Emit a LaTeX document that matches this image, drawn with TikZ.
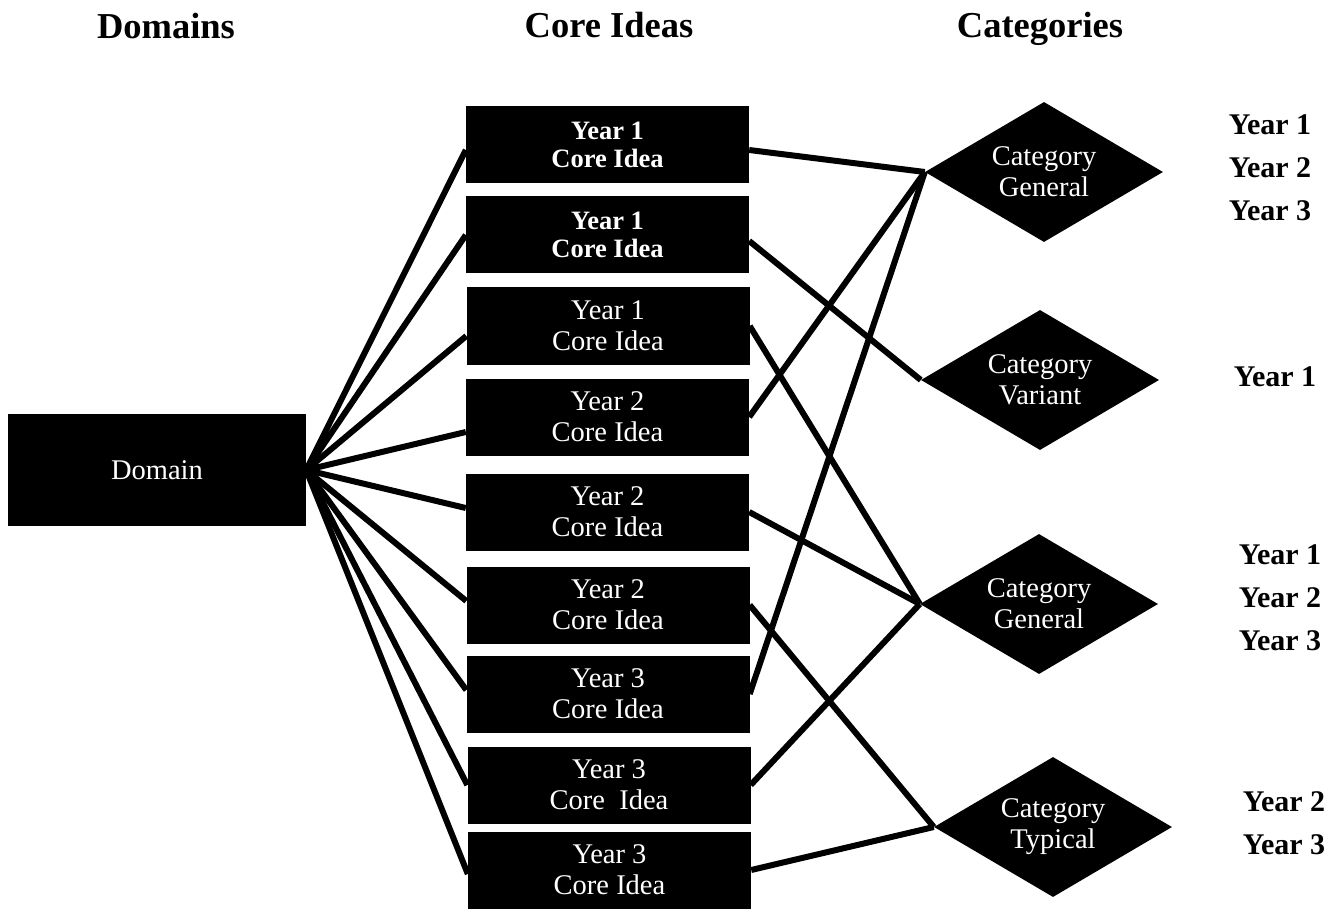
\documentclass[tikz,border=0pt]{standalone}
\usepackage{fontspec}
\setmainfont{Liberation Serif}
\usetikzlibrary{shapes.geometric}
\tikzset{
  corebox/.style={fill=black,text=white,minimum width=283pt,minimum height=77pt,inner sep=0pt,align=center,font=\fontsize{28.5}{31}\selectfont},
  corebold/.style={corebox,font=\fontsize{26.5}{28}\selectfont\bfseries},
  catdiamond/.style={diamond,fill=black,text=white,aspect=1.7,minimum width=238pt,minimum height=140pt,inner sep=0pt,align=center,font=\fontsize{28.5}{31}\selectfont},
  heading/.style={anchor=base,font=\fontsize{36.5}{40}\selectfont\bfseries},
  yearlist/.style={align=center,font=\fontsize{30}{43}\selectfont\bfseries},
  link/.style={line width=6pt}
}
\begin{document}
\begin{tikzpicture}[x=1pt,y=-1pt]
\useasboundingbox (0,0) rectangle (1336,909);
% headings
\node[heading] (hdom) at(166,39){Domains};
\node[heading] (hcore) at(609,38){Core Ideas};
\node[heading] (hcat) at(1040,38){Categories};
% domain
\node[fill=black,text=white,minimum width=298pt,minimum height=112pt,font=\fontsize{28.5}{31}\selectfont] (dom) at(157,470){Domain};
% core ideas
\node[corebold] (c1) at(607.5,145){Year 1\\Core Idea};
\node[corebold] (c2) at(607.5,235){Year 1\\Core Idea};
\node[corebox] (c3) at(608,326){Year 1\\Core Idea};
\node[corebox] (c4) at(607.5,417){Year 2\\Core Idea};
\node[corebox] (c5) at(607.5,512){Year 2\\Core Idea};
\node[corebox] (c6) at(608,605){Year 2\\Core Idea};
\node[corebox] (c7) at(608,694){Year 3\\Core Idea};
\node[corebox] (c8) at(609,785){Year 3\\Core\ \ Idea};
\node[corebox] (c9) at(609.5,870){Year 3\\Core Idea};
% categories
\node[catdiamond] (k1) at(1044,172){Category\\General};
\node[catdiamond] (k2) at(1040,380){Category\\Variant};
\node[catdiamond] (k3) at(1039,604){Category\\General};
\node[catdiamond] (k4) at(1053,827){Category\\Typical};
% years per category
\node[yearlist] (y1) at(1270,168){Year 1\\Year 2\\Year 3};
\node[yearlist] (y2) at(1275,377){Year 1};
\node[yearlist] (y3) at(1280,598){Year 1\\Year 2\\Year 3};
\node[yearlist] (y4) at(1284,823){Year 2\\Year 3};
% domain to core ideas
\draw[link] (dom.east) -- ([yshift=-5pt]c1.west);
\draw[link] (dom.east) -- (c2.west);
\draw[link] (dom.east) -- ([yshift=-10pt]c3.west);
\draw[link] (dom.east) -- ([yshift=-15pt]c4.west);
\draw[link] (dom.east) -- ([yshift=4pt]c5.west);
\draw[link] (dom.east) -- ([yshift=4pt]c6.west);
\draw[link] (dom.east) -- ([yshift=4pt]c7.west);
\draw[link] (dom.east) -- (c8.west);
\draw[link] (dom.east) -- ([yshift=-4pt]c9.west);
% core ideas to categories
\draw[link] ([yshift=-5pt]c1.east) -- (k1.west);
\draw[link] ([yshift=-6pt]c2.east) -- (k2.west);
\draw[link] (c3.east) -- (k3.west);
\draw[link] (c4.east) -- (k1.west);
\draw[link] (c5.east) -- (k3.west);
\draw[link] (c6.east) -- (k4.west);
\draw[link] (c7.east) -- (k1.west);
\draw[link] (c8.east) -- (k3.west);
\draw[link] (c9.east) -- (k4.west);
\end{tikzpicture}
\end{document}
